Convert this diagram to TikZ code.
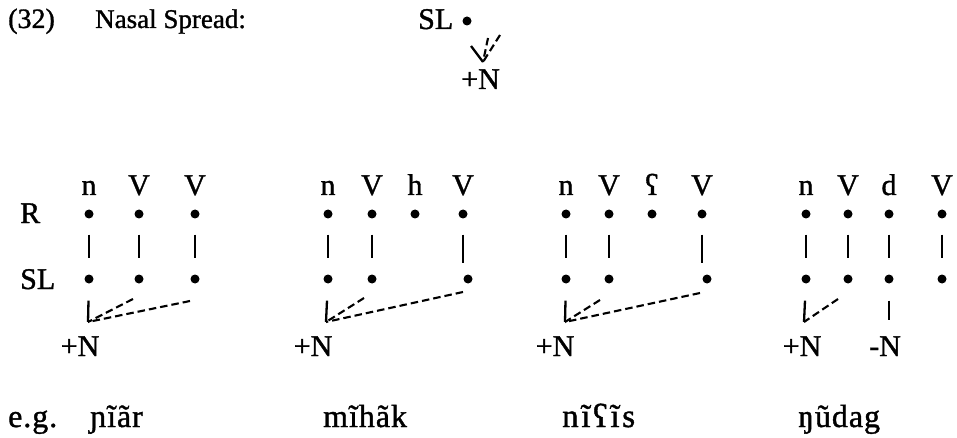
\documentclass[tikz,border=0pt]{standalone}
\usepackage{fontspec}
\setmainfont[FakeBold=1.2]{Liberation Serif}
\usetikzlibrary{arrows.meta}
\begin{document}
\begin{tikzpicture}[x=1pt,y=-1pt,
  txt/.style={font=\fontsize{30}{34}\selectfont, inner sep=0pt, anchor=base},
  lbl/.style={txt, anchor=base west},
  word/.style={font=\fontsize{32}{36}\selectfont\addfontfeatures{LetterSpace=3}, inner sep=0pt, anchor=base west},
  dot/.style={circle, fill=black, inner sep=0pt, minimum size=9pt},
  assoc/.style={line width=2.3pt, shorten <=16pt, shorten >=16pt},
  stem/.style={line width=2.3pt, shorten <=17pt},
  spread/.style={line width=2.1pt, dash pattern=on 7.5pt off 4pt},
]
\useasboundingbox (0,0) rectangle (957,438);
% header
\node[lbl, font=\fontsize{28}{32}\selectfont] (num) at (8,28) {(32)};
\node[lbl, font=\fontsize{27}{31}\selectfont] (title) at (95,28) {Nasal Spread:};
\node[lbl] (hsl) at (418,29) {SL};
\node[dot] (hd) at (467,21) {};
\coordinate (ha) at (488,38);
\coordinate (hb) at (500,35);
\coordinate (hl) at (471,46);
\coordinate (htip) at (483,62);
\draw[spread] (ha) -- (htip);
\draw[spread] (hb) -- (htip);
\draw[line width=2.3pt] (hl) -- (htip);
\node[lbl] (hn) at (461,89) {+N};
% row labels
\node[lbl] (rR) at (20,223) {R};
\node[lbl] (rSL) at (20,289) {SL};
% ---------- diagram 1
\node[txt] (l1a) at (89,195) {n};
\node[txt] (l1b) at (139,195) {V};
\node[txt] (l1c) at (195,195) {V};
\node[dot] (r1a) at (89,214) {};
\node[dot] (r1b) at (139,214) {};
\node[dot] (r1c) at (195,214) {};
\node[dot] (s1a) at (89,279) {};
\node[dot] (s1b) at (139,279) {};
\node[dot] (s1c) at (195,279) {};
\draw[assoc] (r1a) -- (s1a);
\draw[assoc] (r1b) -- (s1b);
\draw[assoc] (r1c) -- (s1c);
\coordinate (j1) at (88,322);
\coordinate (t1b) at (133,299);
\coordinate (t1c) at (190,301);
\draw[stem] (s1a) -- (j1);
\draw[spread] (t1b) -- (j1);
\draw[spread] (t1c) -- (j1);
\node[txt] (n1) at (80,356) {+N};
% ---------- diagram 2
\node[txt] (l2a) at (328,195) {n};
\node[txt] (l2b) at (372,195) {V};
\node[txt] (l2c) at (415,195) {h};
\node[txt] (l2d) at (463,195) {V};
\node[dot] (r2a) at (328,214) {};
\node[dot] (r2b) at (372,214) {};
\node[dot] (r2c) at (415,214) {};
\node[dot] (r2d) at (463,214) {};
\node[dot] (s2a) at (328,279) {};
\node[dot] (s2b) at (372,279) {};
\node[dot] (s2d) at (468,279) {};
\draw[assoc] (r2a) -- (s2a);
\draw[assoc] (r2b) -- (s2b);
\draw[assoc] (r2d) -- (r2d |- s2d);
\coordinate (j2) at (326,322);
\coordinate (t2b) at (364,298);
\coordinate (t2d) at (463,292);
\draw[stem] (s2a) -- (j2);
\draw[spread] (t2b) -- (j2);
\draw[spread] (t2d) -- (j2);
\node[txt] (n2) at (313,356) {+N};
% ---------- diagram 3
\node[txt] (l3a) at (566,195) {n};
\node[txt] (l3b) at (609,195) {V};
\node[txt] (l3c) at (652,195) {ʕ};
\node[txt] (l3d) at (702,195) {V};
\node[dot] (r3a) at (566,214) {};
\node[dot] (r3b) at (609,214) {};
\node[dot] (r3c) at (652,214) {};
\node[dot] (r3d) at (702,214) {};
\node[dot] (s3a) at (566,279) {};
\node[dot] (s3b) at (609,279) {};
\node[dot] (s3d) at (707,279) {};
\draw[assoc] (r3a) -- (s3a);
\draw[assoc] (r3b) -- (s3b);
\draw[assoc] (r3d) -- (r3d |- s3d);
\coordinate (j3) at (565,322);
\coordinate (t3b) at (600,300);
\coordinate (t3d) at (700,293);
\draw[stem] (s3a) -- (j3);
\draw[spread] (t3b) -- (j3);
\draw[spread] (t3d) -- (j3);
\node[txt] (n3) at (555,356) {+N};
% ---------- diagram 4
\node[txt] (l4a) at (806,195) {n};
\node[txt] (l4b) at (848,195) {V};
\node[txt] (l4c) at (889,195) {d};
\node[txt] (l4d) at (942,195) {V};
\node[dot] (r4a) at (806,214) {};
\node[dot] (r4b) at (848,214) {};
\node[dot] (r4c) at (889,214) {};
\node[dot] (r4d) at (942,214) {};
\node[dot] (s4a) at (806,279) {};
\node[dot] (s4b) at (848,279) {};
\node[dot] (s4c) at (889,279) {};
\node[dot] (s4d) at (942,279) {};
\draw[assoc] (r4a) -- (s4a);
\draw[assoc] (r4b) -- (s4b);
\draw[assoc] (r4c) -- (s4c);
\draw[assoc] (r4d) -- (s4d);
\coordinate (j4) at (804,322);
\coordinate (t4b) at (838,299);
\coordinate (k4) at (889,320);
\draw[stem] (s4a) -- (j4);
\draw[spread] (t4b) -- (j4);
\draw[stem] (s4c) -- (k4);
\node[txt] (n4) at (802,356) {+N};
\node[txt] (m4) at (885,356) {-N};
% ---------- examples
\node[word] (eg) at (8,427) {e.g.};
\node[word] (w1) at (90,427) {ɲĩãr};
\node[word] (w2) at (323,427) {mĩhãk};
\node[word, font=\fontsize{33}{37}\selectfont\addfontfeatures{LetterSpace=8}] (w3) at (562,427) {nĩʕĩs};
\node[word] (w4) at (798,427) {ŋũdag};
\end{tikzpicture}
\end{document}
